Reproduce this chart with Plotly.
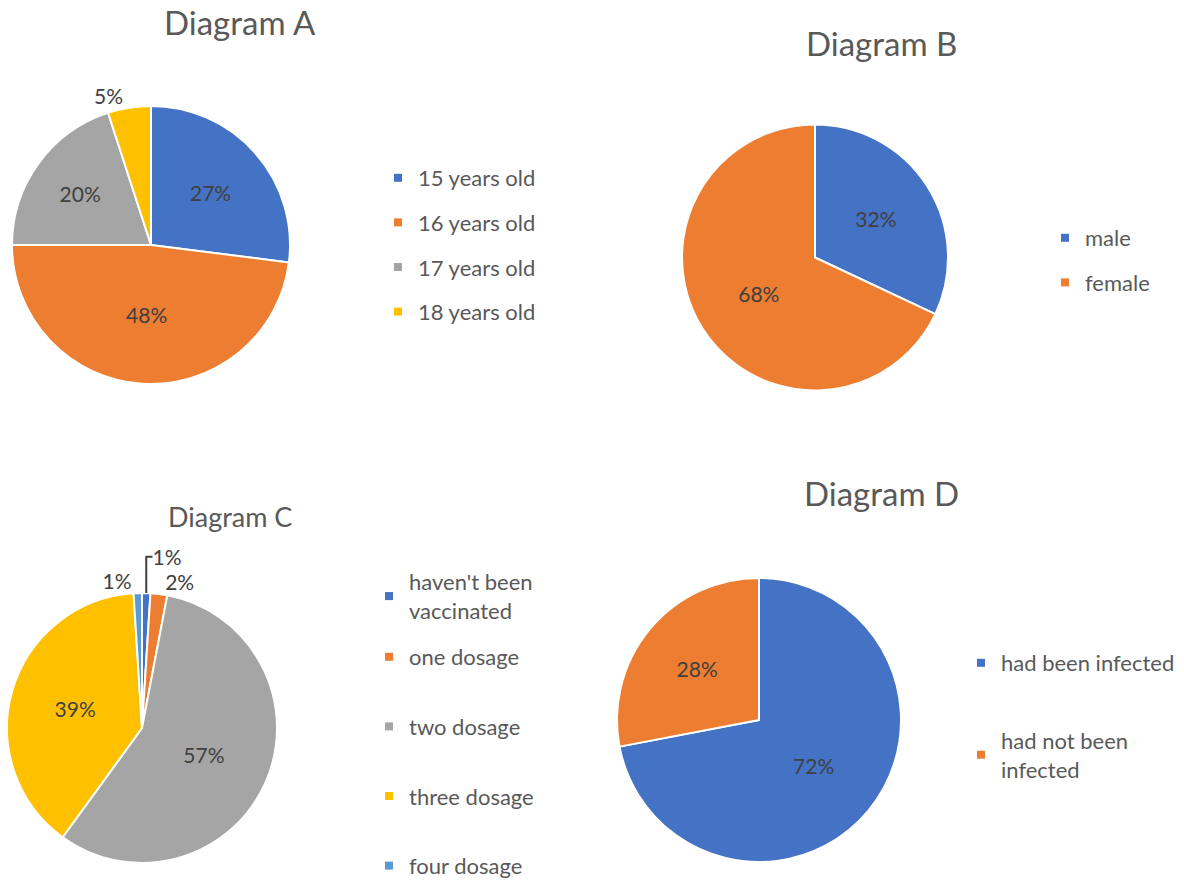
import plotly.graph_objects as go

FONT = "Lato"
TXT = "#404040"
LEG = "#595959"
BLUE, ORANGE, GRAY, YELLOW, LBLUE = "#4472C4", "#ED7D31", "#A5A5A5", "#FFC000", "#5B9BD5"

# ---- data ----
a_labels = ["15 years old", "16 years old", "17 years old", "18 years old"]
a_values = [27, 48, 20, 5]
a_colors = [BLUE, ORANGE, GRAY, YELLOW]

b_labels = ["male", "female"]
b_values = [32, 68]
b_colors = [BLUE, ORANGE]

c_labels = ["haven't been<br>vaccinated", "one dosage", "two dosage", "three dosage", "four dosage"]
c_values = [1, 2, 57, 39, 1]
c_colors = [BLUE, ORANGE, GRAY, YELLOW, LBLUE]

d_labels = ["had been infected", "had not been<br>infected"]
d_values = [72, 28]
d_colors = [BLUE, ORANGE]

W, H = 1184, 882

def px_dom(cx, cy, r):
    return dict(x=[(cx - r) / W, (cx + r) / W], y=[1 - (cy + r) / H, 1 - (cy - r) / H])

def pie(labels, values, colors, dom, positions):
    return go.Pie(
        labels=labels, values=values, sort=False, direction="clockwise", rotation=0,
        marker=dict(colors=colors, line=dict(color="white", width=2)),
        textinfo="percent", textposition=positions, insidetextorientation="horizontal",
        textfont=dict(family=FONT, size=21, color=TXT),
        showlegend=False, hoverinfo="label+percent", domain=dom,
    )

fig = go.Figure()
fig.add_trace(pie(a_labels, a_values, a_colors, px_dom(151, 245, 139), ["inside", "inside", "inside", "outside"]))
fig.add_trace(pie(b_labels, b_values, b_colors, px_dom(815, 257.5, 133), "inside"))
fig.add_trace(pie(c_labels, c_values, c_colors, px_dom(142, 728, 135), ["outside", "outside", "inside", "inside", "outside"]))
fig.add_trace(pie(d_labels, d_values, d_colors, px_dom(759, 720, 142), "inside"))

# legend entries (C split in two legends so the two-line entry keeps its own spacing)
groups = [
    ("legend", a_labels, a_colors),
    ("legend2", b_labels, b_colors),
    ("legend3", c_labels[:1], c_colors[:1]),
    ("legend5", c_labels[1:], c_colors[1:]),
    ("legend4", d_labels, d_colors),
]
for name, labels, colors in groups:
    for lab, col in zip(labels, colors):
        fig.add_trace(go.Scatter(x=[None], y=[None], mode="markers", name=lab,
                                 marker=dict(symbol="square", size=8, color=col),
                                 legend=name, legendgroup=name + lab, showlegend=True,
                                 hoverinfo="skip"))

def leg(x, top, gap):
    return dict(x=x / W, y=1 - top / H, xanchor="left", yanchor="top", bgcolor="rgba(0,0,0,0)",
                font=dict(family=FONT, size=22, color=LEG), tracegroupgap=gap, itemclick=False,
                itemdoubleclick=False)

def title(text, cx, cy, size):
    return dict(text=text, x=cx / W, y=1 - cy / H, xref="paper", yref="paper", showarrow=False,
                xanchor="center", yanchor="middle", font=dict(family=FONT, size=size, color=LEG))

fig.update_layout(
    width=W, height=H, margin=dict(l=0, r=0, t=0, b=0, autoexpand=False),
    paper_bgcolor="white", plot_bgcolor="white",
    xaxis=dict(visible=False), yaxis=dict(visible=False),
    legend=leg(378, 157, 13),
    legend2=leg(1045, 217, 13),
    legend3=leg(369, 561, 13),
    legend5=leg(369, 636, 38),
    legend4=leg(961, 642, 46),
    annotations=[
        title("Diagram A", 240, 22, 33),
        title("Diagram B", 881, 43, 33),
        title("Diagram C", 230, 516, 27),
        title("Diagram D", 881, 493, 33),
    ],
)

fig.write_html("out.html")
